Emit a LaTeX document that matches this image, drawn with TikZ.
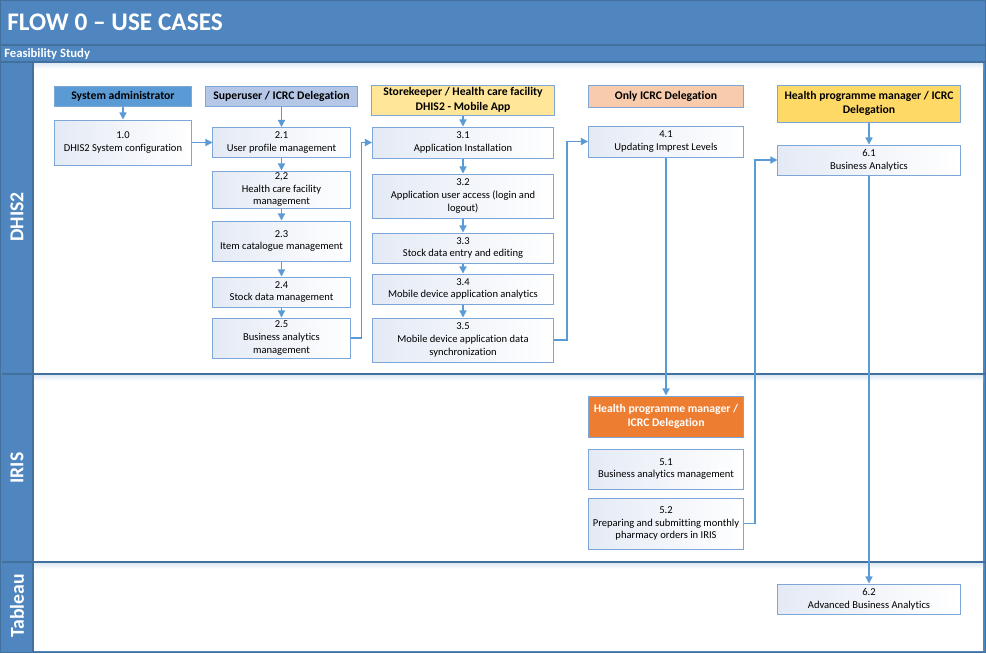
\documentclass[tikz,border=0pt]{standalone}
\usepackage{fontspec}
\setmainfont{Carlito}[Ligatures={NoCommon}, Contextuals={NoAlternate}, RawFeature={-liga;-calt}]
\usepackage{tikz}
\usetikzlibrary{shapes, arrows.meta, positioning}
\definecolor{LaneBlue}{HTML}{4F86BF}
\definecolor{LaneLine}{HTML}{41719C}
\definecolor{TaskLine}{HTML}{7DA7D9}
\definecolor{TaskTint}{HTML}{E4EAF5}
\definecolor{FlowBlue}{HTML}{5B9BD5}
\definecolor{SysBlue}{HTML}{5B9BD5}
\definecolor{SuperLav}{HTML}{B4C7E7}
\definecolor{StoreYellow}{HTML}{FFE699}
\definecolor{OnlyPeach}{HTML}{F8CBAD}
\definecolor{HealthYellow}{HTML}{FFD966}
\definecolor{HealthOrange}{HTML}{ED7D31}

\begin{document}
\begin{tikzpicture}
  [
    x=0.025cm, y=-0.025cm,
    Actor/.style={rectangle, draw=TaskLine, line width=0.7pt, inner sep=0pt, align=center, font=\fontsize{8.3}{10.3}\selectfont\bfseries},
    Task/.style={rectangle, draw=TaskLine, line width=0.7pt, left color=TaskTint, right color=white, inner sep=0pt, align=center, font=\fontsize{7.5}{9}\selectfont},
    Lane/.style={rotate=90, text=white, inner sep=0pt, font=\fontsize{14}{16}\selectfont\bfseries},
    Flow/.style={draw=FlowBlue, line width=0.9pt, -{Triangle[length=5pt, width=5pt]}}
  ]
  \useasboundingbox (0, 0) rectangle (986, 653);
  % Lanes
  \fill[LaneBlue] (0, 0) rectangle (986, 653);
  \fill[white] (33, 62) rectangle (983, 651);
  \shade[top color=LaneBlue!18, bottom color=white] (33, 63) rectangle (983, 69);
  \shade[top color=LaneBlue!18, bottom color=white] (33, 375) rectangle (983, 381);
  \shade[top color=LaneBlue!18, bottom color=white] (33, 563) rectangle (983, 569);
  \draw[LaneLine, line width=1pt] (0, 45) -- (986, 45);
  \draw[LaneLine, line width=0.8pt] (0, 62) -- (986, 62);
  \draw[LaneLine, line width=1.4pt] (2, 374) -- (986, 374);
  \draw[LaneLine, line width=1.4pt] (2, 562) -- (986, 562);
  \draw[LaneLine, line width=1pt] (33, 62) -- (33, 652);
  \draw[LaneLine, line width=1pt] (0.5, 0.5) rectangle (985.5, 652.5);
  % Titles
  \node[anchor=west, text=white, inner sep=0pt, font=\fontsize{18}{20}\selectfont\bfseries] (title) at(7, 22) {FLOW 0 – USE CASES};
  \node[anchor=west, text=white, inner sep=0pt, font=\fontsize{9}{10}\selectfont\bfseries] (study) at(4, 54) {Feasibility Study};
  \node[Lane] (dhis) at(17, 217) {DHIS2};
  \node[Lane] (iris) at(17, 468) {IRIS};
  \node[Lane] (tableau) at(17, 606) {Tableau};
  % Actors
  \node[Actor, fill=SysBlue, minimum width=3.4cm, minimum height=0.5cm] (a1) at(123, 96) {System administrator};
  \node[Actor, fill=SuperLav, minimum width=3.8cm, minimum height=0.5cm] (a2) at(281.5, 96) {Superuser / ICRC Delegation};
  \node[Actor, fill=StoreYellow, minimum width=4.55cm, minimum height=0.75cm] (a3) at(463, 100) {Storekeeper / Health care facility\\DHIS2 - Mobile App};
  \node[Actor, fill=OnlyPeach, minimum width=3.875cm, minimum height=0.55cm] (a4) at(666, 96) {Only ICRC Delegation};
  \node[Actor, fill=HealthOrange, text=white, minimum width=3.875cm, minimum height=1.025cm] (a5) at(666, 416.5) {Health programme manager /\\ICRC Delegation};
  \node[Actor, fill=HealthYellow, minimum width=4.55cm, minimum height=0.925cm] (a6) at(869, 103.5) {Health programme manager / ICRC\\Delegation};
  % Tasks
  \node[Task, minimum width=3.4cm, minimum height=1.125cm] (t10) at(123, 142.5) {1.0\\DHIS2 System configuration};
  \node[Task, minimum width=3.425cm, minimum height=0.75cm] (t21) at(281.5, 142.5) {2.1\\User profile management};
  \node[Task, minimum width=3.425cm, minimum height=0.925cm] (t22) at(281.5, 189.5) {2,2\\Health care facility\\management};
  \node[Task, minimum width=3.425cm, minimum height=1cm] (t23) at(281.5, 241) {2.3\\Item catalogue management};
  \node[Task, minimum width=3.425cm, minimum height=0.75cm] (t24) at(281.5, 292) {2.4\\Stock data management};
  \node[Task, minimum width=3.425cm, minimum height=1cm] (t25) at(281.5, 338) {2.5\\Business analytics\\management};
  \node[Task, minimum width=4.525cm, minimum height=0.775cm] (t31) at(463, 142.5) {3.1\\Application Installation};
  \node[Task, minimum width=4.525cm, minimum height=1.1cm] (t32) at(463, 196) {3.2\\Application user access (login and\\logout)};
  \node[Task, minimum width=4.525cm, minimum height=0.75cm] (t33) at(463, 248) {3.3\\Stock data entry and editing};
  \node[Task, minimum width=4.525cm, minimum height=0.75cm] (t34) at(463, 289) {3.4\\Mobile device application analytics};
  \node[Task, minimum width=4.525cm, minimum height=1.1cm] (t35) at(463, 340) {3.5\\Mobile device application data\\synchronization};
  \node[Task, minimum width=3.875cm, minimum height=0.775cm] (t41) at(666, 141.5) {4.1\\Updating Imprest Levels};
  \node[Task, minimum width=3.875cm, minimum height=1cm] (t51) at(666, 469) {5.1\\Business analytics management};
  \node[Task, minimum width=3.875cm, minimum height=1.275cm] (t52) at(666, 523.5) {5.2\\Preparing and submitting monthly\\pharmacy orders in IRIS};
  \node[Task, minimum width=4.55cm, minimum height=0.75cm] (t61) at(869, 160) {6.1\\Business Analytics};
  \node[Task, minimum width=4.55cm, minimum height=0.75cm] (t62) at(869, 599) {6.2\\Advanced Business Analytics};
  % Lines
  \path [Flow] (a1) -- (t10);
  \path [Flow] (t10) -- (t21);
  \path [Flow] (a2) -- (t21);
  \path [Flow] (t21) -- (t22);
  \path [Flow] (t22) -- (t23);
  \path [Flow] (t23) -- (t24);
  \path [Flow] (t24) -- (t25);
  \path [Flow] (t25.east) -- ++(11, 0) |- (t31.west);
  \path [Flow] (a3) -- (t31);
  \path [Flow] (t31) -- (t32);
  \path [Flow] (t32) -- (t33);
  \path [Flow] (t33) -- (t34);
  \path [Flow] (t34) -- (t35);
  \path [Flow] (t35.east) -- ++(13, 0) |- (t41.west);
  \path [Flow] (t41) -- (a5);
  \path [Flow] (t52.east) -- ++(11, 0) |- (t61.west);
  \path [Flow] (a6) -- (t61);
  \path [Flow] (t61) -- (t62);
\end{tikzpicture}
\end{document}
